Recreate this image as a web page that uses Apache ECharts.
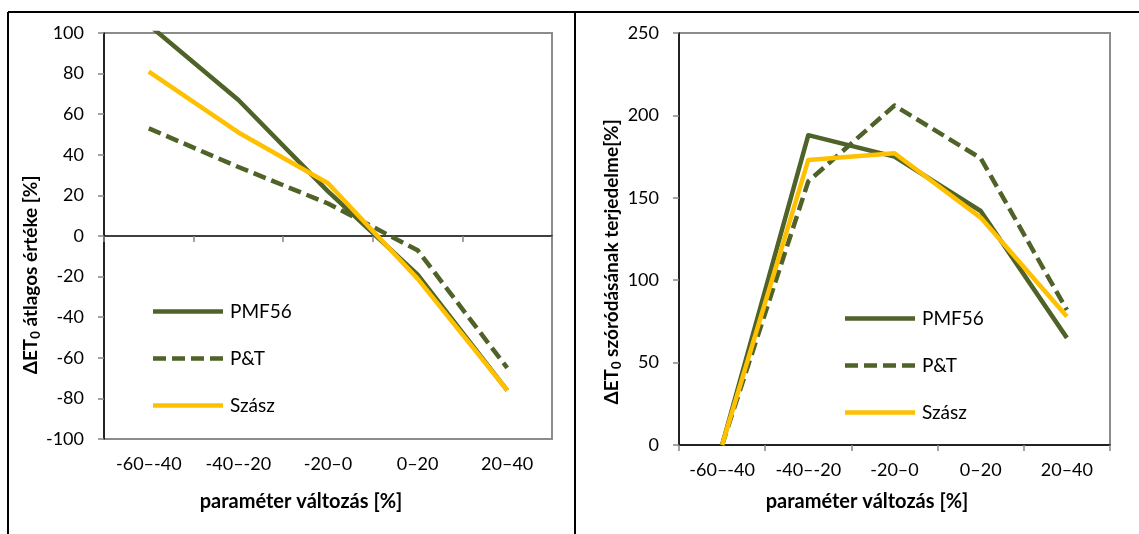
<!DOCTYPE html>
<html>
<head>
<meta charset="utf-8">
<script src="https://cdn.jsdelivr.net/npm/echarts@6/dist/echarts.min.js"></script>
<style>
html,body{margin:0;padding:0;background:#fff;}
#chart{width:1139px;height:534px;}
</style>
</head>
<body>
<div id="chart"></div>
<script>
const categories = ['-60–-40', '-40–-20', '-20–0', '0–20', '20–40'];
const seriesNames = ['PMF56', 'P&T', 'Szász'];

// left panel: mean of ΔET0 [%]
const pmf56Mean = [104, 67, 22, -19, -76];
const ptMean = [53, 34, 16, -7, -65];
const szaszMean = [81, 51, 26, -21, -76];

// right panel: range of ΔET0 spread [%]
const pmf56Range = [0, 188, 175, 142, 65];
const ptRange = [0, 160, 206, 174, 82];
const szaszRange = [0, 173, 177, 138, 78];

const leftTicks = { min: -100, max: 100, interval: 20 };
const rightTicks = { min: 0, max: 250, interval: 50 };

const GREEN = '#4F6228';
const YELLOW = '#FFC000';
const FONT = 'Lato';
const TICK_GRAY = '#868686';

const chart = echarts.init(document.getElementById('chart'), null, { renderer: 'canvas' });

const subRich = {
  d: { fontFamily: FONT, fontWeight: 'bold', fontSize: 19, color: '#000', lineHeight: 22 },
  s: { fontFamily: FONT, fontWeight: 'bold', fontSize: 13, color: '#000', lineHeight: 8, verticalAlign: 'bottom' }
};

function lineSeries(name, data, color, dashed, idx) {
  return {
    name: name,
    type: 'line',
    xAxisIndex: idx === 0 ? 0 : 2,
    yAxisIndex: idx,
    data: data,
    symbol: 'none',
    clip: true,
    lineStyle: { color: color, width: 4.5, type: dashed ? [13, 6] : 'solid', cap: 'butt', join: 'round' },
    itemStyle: { color: color },
    emphasis: { disabled: true },
    animation: false
  };
}

const SOLID_ICON = 'path://M0,0h70v4.5h-70z';
const DASH_ICON = 'path://M0,0h13v4.5h-13zM19,0h13v4.5h-13zM38,0h13v4.5h-13zM57,0h13v4.5h-13z';
const legendData = [
  { name: 'PMF56', icon: SOLID_ICON, itemStyle: { color: GREEN } },
  { name: 'P&T', icon: DASH_ICON, itemStyle: { color: GREEN } },
  { name: 'Szász', icon: SOLID_ICON, itemStyle: { color: YELLOW } }
];

const yLabel = { fontFamily: FONT, fontSize: 18, color: '#000', margin: 20 };
const xLabel = { fontFamily: FONT, fontSize: 18, color: '#000', margin: 16 };
const xName = { fontFamily: FONT, fontSize: 20, fontWeight: 'bold', color: '#000' };

function legendAt(left, top) {
  return {
    data: legendData, orient: 'vertical', left: left, top: top,
    itemWidth: 70, itemHeight: 14, itemGap: 28, selectedMode: false, symbolKeepAspect: true,
    textStyle: { fontFamily: FONT, fontSize: 19, color: '#000', lineHeight: 14, padding: [0, 0, 0, 2] }
  };
}

const option = {
  animation: false,
  backgroundColor: '#fff',
  graphic: [
    { type: 'line', shape: { x1: 8, y1: 12, x2: 1139, y2: 12 }, style: { stroke: '#000', lineWidth: 2 } },
    { type: 'line', shape: { x1: 8, y1: 12, x2: 8, y2: 534 }, style: { stroke: '#000', lineWidth: 2 } },
    { type: 'line', shape: { x1: 575, y1: 12, x2: 575, y2: 534 }, style: { stroke: '#000', lineWidth: 2 } }
  ],
  grid: [
    { left: 104, top: 33, width: 448, height: 406, show: true, borderColor: '#8c8c8c', borderWidth: 2, backgroundColor: 'transparent', containLabel: false },
    { left: 679, top: 33, width: 431, height: 412, show: true, borderColor: '#8c8c8c', borderWidth: 2, backgroundColor: 'transparent', containLabel: false }
  ],
  legend: [legendAt(148, 297), legendAt(840, 304)],
  xAxis: [
    {
      gridIndex: 0, type: 'category', data: categories, position: 'bottom', boundaryGap: true,
      axisLine: { show: false, onZero: false }, axisTick: { show: false },
      axisLabel: xLabel, splitLine: { show: false },
      name: 'paraméter változás [%]', nameLocation: 'middle', nameGap: 53,
      nameTextStyle: Object.assign({ padding: [0, 54, 0, 0] }, xName)
    },
    {
      gridIndex: 0, type: 'category', data: categories, position: 'bottom', boundaryGap: true,
      axisLine: { show: true, onZero: true, lineStyle: { color: '#000', width: 1.5 } },
      axisTick: { show: true, length: 6, lineStyle: { color: TICK_GRAY, width: 1.5 } },
      axisLabel: { show: false }, splitLine: { show: false }
    },
    {
      gridIndex: 1, type: 'category', data: categories, position: 'bottom', boundaryGap: true,
      axisLine: { show: true, lineStyle: { color: '#000', width: 1.5 } },
      axisTick: { show: true, length: 6, lineStyle: { color: TICK_GRAY, width: 1.5 } },
      axisLabel: xLabel, splitLine: { show: false },
      name: 'paraméter változás [%]', nameLocation: 'middle', nameGap: 47,
      nameTextStyle: Object.assign({ padding: [0, 55, 0, 0] }, xName)
    }
  ],
  yAxis: [
    {
      gridIndex: 0, type: 'value', min: leftTicks.min, max: leftTicks.max, interval: leftTicks.interval,
      axisLine: { show: true, onZero: false, lineStyle: { color: '#000', width: 1.5 } },
      axisTick: { show: true, length: 6, lineStyle: { color: TICK_GRAY, width: 1.5 } },
      axisLabel: yLabel, splitLine: { show: false },
      name: '{d|ΔET}{s|0}{d| átlagos értéke [%]}', nameLocation: 'middle', nameGap: 50, nameRotate: 90,
      nameTextStyle: { rich: subRich, padding: [0, 78, 0, 0] }
    },
    {
      gridIndex: 1, type: 'value', min: rightTicks.min, max: rightTicks.max, interval: rightTicks.interval,
      axisLine: { show: true, onZero: false, lineStyle: { color: '#000', width: 1.5 } },
      axisTick: { show: true, length: 6, lineStyle: { color: TICK_GRAY, width: 1.5 } },
      axisLabel: yLabel, splitLine: { show: false },
      name: '{d|ΔET}{s|0}{d| szóródásának terjedelme[%]}', nameLocation: 'middle', nameGap: 56, nameRotate: 90,
      nameTextStyle: { rich: subRich, padding: [0, 46, 0, 0] }
    }
  ],
  series: [
    lineSeries('PMF56', pmf56Mean, GREEN, false, 0),
    lineSeries('P&T', ptMean, GREEN, true, 0),
    lineSeries('Szász', szaszMean, YELLOW, false, 0),
    lineSeries('PMF56', pmf56Range, GREEN, false, 1),
    lineSeries('P&T', ptRange, GREEN, true, 1),
    lineSeries('Szász', szaszRange, YELLOW, false, 1)
  ]
};

chart.setOption(option);
</script>
</body>
</html>
